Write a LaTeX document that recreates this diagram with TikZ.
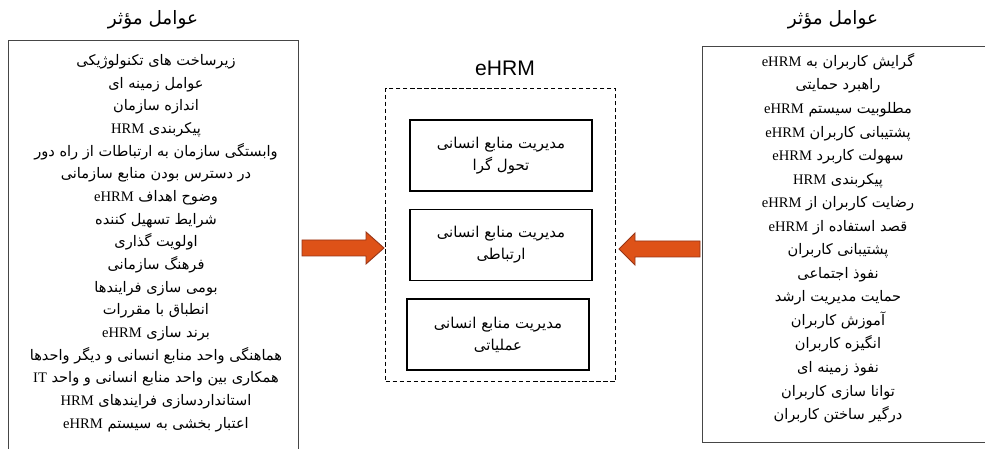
\documentclass[tikz,border=0pt]{standalone}
\usepackage{fontspec}
\usetikzlibrary{positioning}
\setmainfont{Liberation Serif}
\newfontfamily\persianfont[Script=Arabic]{DejaVu Sans}
\newfontfamily\labelfont{Liberation Sans}
\TeXXeTstate=1
\newcommand{\fa}[1]{\beginR #1\endR}
\newcommand{\lat}[1]{\beginL{\rmfamily #1}\endL}
\definecolor{arrowfill}{RGB}{222,82,24}
\definecolor{arrowedge}{RGB}{150,52,22}
\definecolor{boxline}{RGB}{70,70,70}
\tikzset{
  listbox/.style={draw=boxline, line width=0.7pt, anchor=north west, inner sep=0pt},
  factors/.style={align=center, anchor=north, inner sep=0pt,
    font=\persianfont\fontsize{8.3}{12.9}\selectfont},
  titletext/.style={font=\persianfont\fontsize{10.5}{13}\selectfont},
  dashbox/.style={draw=black, line width=0.6pt, dash pattern=on 2.5pt off 1.5pt,
    anchor=north west, minimum width=4.6cm, minimum height=5.86cm},
  typebox/.style={draw=black, line width=0.9pt, align=center,
    minimum width=3.64cm, minimum height=1.42cm,
    font=\persianfont\fontsize{8.5}{12.5}\selectfont},
  blockarrow/.style={draw=arrowedge, fill=arrowfill, line width=0.5pt, line join=miter}
}
\begin{document}
\begin{tikzpicture}[x=0.02cm, y=-0.02cm, node distance=0.34cm]
  \useasboundingbox (0,0) rectangle (985,449);

  % left group
  \node[titletext] (ltitle) at (153,20) {\fa{عوامل مؤثر}};
  \node[listbox, minimum width=5.8cm, minimum height=8.8cm] (lbox) at (8,40) {};
  \node[factors] (lfac) at (156,54) {%
    \fa{زیرساخت های تکنولوژیکی}\\
    \fa{عوامل زمینه ای}\\
    \fa{اندازه سازمان}\\
    \fa{پیکربندی \lat{HRM}}\\
    \fa{وابستگی سازمان به ارتباطات از راه دور}\\
    \fa{در دسترس بودن منابع سازمانی}\\
    \fa{وضوح اهداف \lat{eHRM}}\\
    \fa{شرایط تسهیل کننده}\\
    \fa{اولویت گذاری}\\
    \fa{فرهنگ سازمانی}\\
    \fa{بومی سازی فرایندها}\\
    \fa{انطباق با مقررات}\\
    \fa{برند سازی \lat{eHRM}}\\
    \fa{هماهنگی واحد منابع انسانی و دیگر واحدها}\\
    \fa{همکاری بین واحد منابع انسانی و واحد \lat{IT}}\\
    \fa{استانداردسازی فرایندهای \lat{HRM}}\\
    \fa{اعتبار بخشی به سیستم \lat{eHRM}}};

  % eHRM core
  \node[font=\labelfont\fontsize{12}{14}\selectfont] (ehrm) at (505,68) {eHRM};
  \node[dashbox] (core) at (385,88) {};
  \node[typebox] (t1) at (501,155.5) {\fa{مدیریت منابع انسانی}\\\fa{تحول گرا}};
  \node[typebox, below=of t1] (t2) {\fa{مدیریت منابع انسانی}\\\fa{ارتباطی}};
  \node[typebox, below=of t2, xshift=-0.06cm] (t3) {\fa{مدیریت منابع انسانی}\\\fa{عملیاتی}};

  % right group
  \node[titletext] (rtitle) at (833,20) {\fa{عوامل مؤثر}};
  \node[listbox, minimum width=5.9cm, minimum height=7.92cm] (rbox) at (702,46) {};
  \node[factors, font=\persianfont\fontsize{8.3}{13.4}\selectfont] (rfac) at (838,53) {%
    \fa{گرایش کاربران به \lat{eHRM}}\\
    \fa{راهبرد حمایتی}\\
    \fa{مطلوبیت سیستم \lat{eHRM}}\\
    \fa{پشتیبانی کاربران \lat{eHRM}}\\
    \fa{سهولت کاربرد \lat{eHRM}}\\
    \fa{پیکربندی \lat{HRM}}\\
    \fa{رضایت کاربران از \lat{eHRM}}\\
    \fa{قصد استفاده از \lat{eHRM}}\\
    \fa{پشتیبانی کاربران}\\
    \fa{نفوذ اجتماعی}\\
    \fa{حمایت مدیریت ارشد}\\
    \fa{آموزش کاربران}\\
    \fa{انگیزه کاربران}\\
    \fa{نفوذ زمینه ای}\\
    \fa{توانا سازی کاربران}\\
    \fa{درگیر ساختن کاربران}};

  % arrows into the core
  \coordinate (la) at (302,248);
  \coordinate (ra) at (700,249);
  \draw[blockarrow] (la) ++(0,-8) -- ++(64,0) -- ++(0,-8) -- ++(18,16)
    -- ++(-18,16) -- ++(0,-8) -- ++(-64,0) -- cycle;
  \draw[blockarrow] (ra) ++(0,-8) -- ++(-65,0) -- ++(0,-8) -- ++(-16,16)
    -- ++(16,16) -- ++(0,-8) -- ++(65,0) -- cycle;
\end{tikzpicture}
\end{document}
